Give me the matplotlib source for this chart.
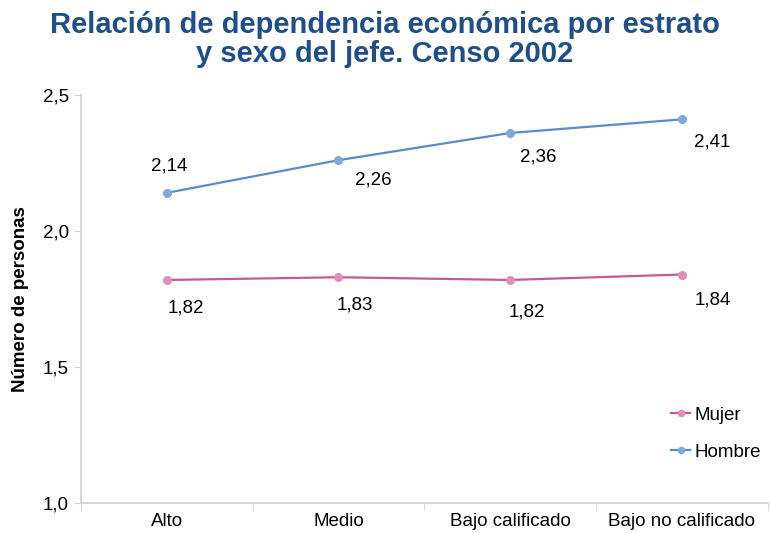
import matplotlib
matplotlib.use("Agg")
import matplotlib.pyplot as plt
from matplotlib.ticker import FixedLocator, FuncFormatter

plt.rcParams['font.family'] = ['Liberation Sans', 'DejaVu Sans']

categories = ["Alto", "Medio", "Bajo calificado", "Bajo no calificado"]
mujer = [1.82, 1.83, 1.82, 1.84]
hombre = [2.14, 2.26, 2.36, 2.41]
yticks = [1.0, 1.5, 2.0, 2.5]

fig = plt.figure(figsize=(7.7, 5.33), dpi=100)
ax = fig.add_axes([0.105, 0.056, 0.892, 0.766])

x = list(range(len(categories)))
c_h = "#5a8ccd"
c_m = "#c65a93"
ax.plot(x, mujer, color=c_m, lw=1.6, marker='o', ms=5.5, mfc="#e08fb8", mec="#e08fb8", label="Mujer", zorder=3)
ax.plot(x, hombre, color=c_h, lw=1.6, marker='o', ms=5.5, mfc="#7fa8db", mec="#7fa8db", label="Hombre", zorder=3)

fs = 13.5
fmt = lambda v: f"{v:.2f}".replace('.', ',')
h_off = [(2, 19), (25, -14), (20, -17), (22, -16)]
for xi, v, off in zip(x, hombre, h_off):
    ax.annotate(fmt(v), (xi, v), xytext=off, textcoords='offset points',
                ha='center', va='center', fontsize=fs)
m_off = [(14, -20), (12, -20), (12, -23), (22, -18)]
for xi, v, off in zip(x, mujer, m_off):
    ax.annotate(fmt(v), (xi, v), xytext=off, textcoords='offset points',
                ha='center', va='center', fontsize=fs)

ax.set_xlim(-0.5, 3.5)
ax.set_ylim(1.0, 2.5)
ax.set_yticks(yticks)
ax.yaxis.set_major_formatter(FuncFormatter(lambda v, p: f"{v:.1f}".replace('.', ',')))
ax.set_xticks(x)
ax.set_xticklabels(categories)
ax.xaxis.set_minor_locator(FixedLocator([-0.5, 0.5, 1.5, 2.5, 3.5]))
ax.tick_params(axis='x', which='major', length=0, labelsize=fs, pad=7)
ax.tick_params(axis='x', which='minor', length=5, color='#d0d0d0')
ax.tick_params(axis='y', length=5, color='#d0d0d0', labelsize=fs)

for s in ['top', 'right']:
    ax.spines[s].set_visible(False)
for s in ['left', 'bottom']:
    ax.spines[s].set_color('#d0d0d0')
    ax.spines[s].set_linewidth(1.2)

ax.set_ylabel("Número de personas", fontsize=13.5, fontweight='bold', labelpad=10)

handles, labels = ax.get_legend_handles_labels()
ax.legend(handles, labels, loc='center left', bbox_to_anchor=(0.835, 0.17), frameon=False,
          fontsize=fs, handlelength=1.0, handletextpad=0.25, labelspacing=1.05, markerscale=0.8)

fig.text(0.5, 0.926, "Relación de dependencia económica por estrato\ny sexo del jefe. Censo 2002",
         ha='center', va='center', fontsize=21, fontweight='bold', color='#1f4e8c', linespacing=1.05)

fig.savefig("out.png", dpi=100)
